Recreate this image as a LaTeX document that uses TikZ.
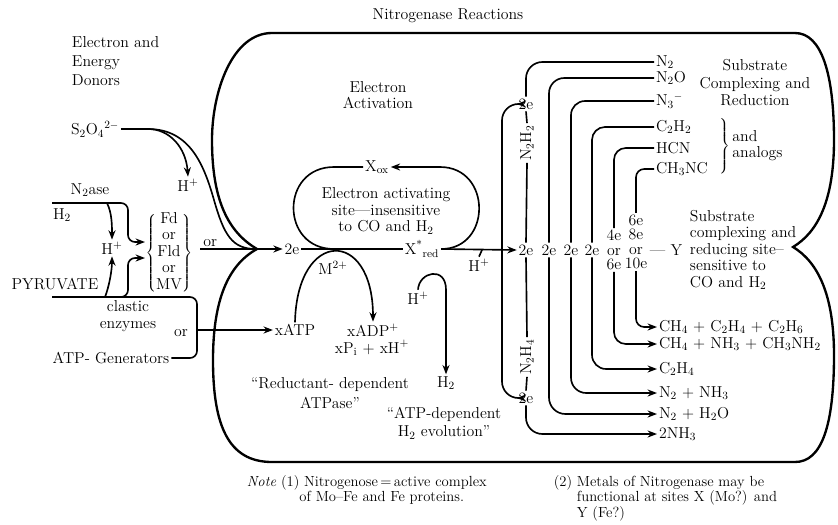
\documentclass[tikz,border=0pt]{standalone}
\usepackage{tikz}
\usetikzlibrary{arrows.meta,calc}

\newcommand{\chsub}[1]{\textsubscript{#1}}
\newcommand{\chsup}[1]{\textsuperscript{#1}}

\begin{document}
\begin{tikzpicture}[x=0.03cm,y=-0.03cm,line width=1.4pt,
  font=\fontsize{13.5}{14}\selectfont,
  lbl/.style={inner sep=1pt,align=center},
  stack/.style={lbl,font=\fontsize{13.5}{12.3}\selectfont},
  subst/.style={lbl,anchor=west},
  arr/.style={-{Stealth[length=8pt,width=6pt]}},
  arrboth/.style={{Stealth[length=8pt,width=6pt]}-{Stealth[length=8pt,width=6pt]}},
  rim/.style={line width=2pt},
  notebox/.style={inner sep=0pt,anchor=north west,font=\fontsize{12.5}{12.5}\selectfont}]
  \useasboundingbox (0,0) rectangle (838,524);

  % titles
  \node[lbl] (title) at (448,16) {Nitrogenase Reactions};
  \node[lbl,anchor=west,align=left] (donors) at (70,61) {Electron and\\[2.5pt]Energy\\[2.5pt]Donors};
  \node[lbl] (eact) at (378,95) {Electron\\Activation};
  \node[lbl] (subA) at (755,83) {Substrate\\[1pt]Complexing and\\[1pt]Reduction};
  \node[lbl,anchor=west,align=left] (subB) at (688,250) {Substrate\\complexing and\\reducing site--\\sensitive to\\CO and H\chsub{2}};

  % donors
  \node[lbl] (s2o4) at (95,129) {S\chsub{2}O\chsub{4}\chsup{2$-$}};
  \node[lbl] (ha) at (188,185) {H\chsup{+}};
  \node[lbl] (n2ase) at (90,190) {N\chsub{2}ase};
  \node[lbl] (h2l) at (62,215) {H\chsub{2}};
  \node[lbl] (hl) at (112,248) {H\chsup{+}};
  \node[lbl] (pyr) at (55,284) {PYRUVATE};
  \node[lbl] (fd) at (169,253) {$\left\{\mbox{\begin{tabular}{@{}c@{}}Fd\\or\\Fld\\or\\MV\end{tabular}}\right\}$};
  \node[lbl] (clastic) at (128,316) {clastic\\enzymes};
  \node[lbl] (orB) at (181,333) {or};
  \node[lbl] (atpgen) at (111,358) {ATP- Generators};

  % electron activation
  \node[lbl] (eL) at (292,249) {2e};
  \node[lbl] (xox) at (377,167) {X\chsub{ox}};
  \node[lbl] (xred) at (422,249) {X\chsup{*}\chsub{red}};
  \node[lbl] (site) at (386,211) {Electron activating\\site---insensitive\\to CO and H\chsub{2}};
  \node[lbl] (m2) at (333,268) {M\chsup{2+}};
  \node[lbl] (xatp) at (295,330) {xATP};
  \node[lbl] (xadp) at (373,330) {xADP\chsup{+}};
  \node[lbl] (xpi) at (372,348) {xP\chsub{i} + xH\chsup{+}};
  \node[lbl] (atpase) at (330,393) {``Reductant- dependent\\[3pt]ATPase''};
  \node[lbl] (hb) at (418,298) {H\chsup{+}};
  \node[lbl] (h2b) at (446,383) {H\chsub{2}};
  \node[lbl] (h2evo) at (444,423) {``ATP-dependent\\[2pt]H\chsub{2} evolution''};
  \node[lbl] (hc) at (479,265) {H\chsup{+}};

  % substrate site
  \node[lbl] (eTop) at (526,104) {2e};
  \node[lbl,rotate=90] (n2h2) at (527,143) {N\chsub{2}H\chsub{2}};
  \node[lbl] (eA) at (526,250) {2e};
  \node[lbl,rotate=90] (n2h4) at (527,357) {N\chsub{2}H\chsub{4}};
  \node[lbl] (eBot) at (526,398) {2e};
  \node[lbl] (eB) at (549,250) {2e};
  \node[lbl] (eC) at (571,250) {2e};
  \node[lbl] (eD) at (592,250) {2e};
  \node[stack] (eE) at (614,250) {4e\\or\\6e};
  \node[stack] (eF) at (636,242) {6e\\8e\\or\\10e};
  \node[lbl,anchor=west] (ysite) at (648,250) {--- Y};

  \node[subst] (sN2) at (654,62) {N\chsub{2}};
  \node[subst] (sN2O) at (654,78) {N\chsub{2}O};
  \node[subst] (sN3) at (654,101) {N\chsub{3}\chsup{$-$}};
  \node[subst] (sC2H2) at (654,127) {C\chsub{2}H\chsub{2}};
  \node[subst] (sHCN) at (654,148) {HCN};
  \node[subst] (sCH3NC) at (654,169) {CH\chsub{3}NC};
  \node[lbl,anchor=west] (analogs) at (716,147) {$\left.\vrule height 28pt depth 22pt width 0pt\right\}$\,\begin{tabular}{@{}l@{}}and\\analogs\end{tabular}};

  \node[subst] (pA) at (657,327) {CH\chsub{4} + C\chsub{2}H\chsub{4} + C\chsub{2}H\chsub{6}};
  \node[subst] (pB) at (657,344) {CH\chsub{4} + NH\chsub{3} + CH\chsub{3}NH\chsub{2}};
  \node[subst] (pC) at (657,369) {C\chsub{2}H\chsub{4}};
  \node[subst] (pD) at (657,393) {N\chsub{2} + NH\chsub{3}};
  \node[subst] (pE) at (657,414) {N\chsub{2} + H\chsub{2}O};
  \node[subst] (pF) at (657,434) {2NH\chsub{3}};

  % notes
  \node[notebox] (note1) at (246,475) {\def\arraystretch{0.95}\begin{tabular}{@{}l@{ }l@{}}\textit{Note} (1) & Nitrogenose\,=\,active complex\\ & \hspace{-4pt}of Mo--Fe and Fe proteins.\end{tabular}};
  \node[notebox] (note2) at (553,475) {\def\arraystretch{0.95}\begin{tabular}{@{}l@{ }l@{}}(2) & Metals of Nitrogenase may be\\ & functional at sites X (Mo?) and\\ & Y (Fe?)\end{tabular}};

  % outer boundary
  \draw[rim] (257,249) .. controls (228,232) and (212,200) .. (212,140)
    .. controls (212,92) and (232,33) .. (272,33) -- (795,33)
    .. controls (822,33) and (834,75) .. (834,140)
    .. controls (834,200) and (818,232) .. (793,247)
    .. controls (818,262) and (834,295) .. (834,355)
    .. controls (834,425) and (822,462) .. (795,462) -- (272,462)
    .. controls (228,462) and (213,425) .. (213,360)
    .. controls (213,300) and (228,265) .. (257,249) -- cycle;

  % donor lines
  \coordinate (sSplit) at (148,129);
  \coordinate (sJoin) at (256,249);
  \draw (s2o4.east) -- (sSplit);
  \draw[arr] (sSplit) .. controls (170,129) and (186,148) .. (ha.north);
  \draw (sSplit) .. controls (190,129) and (204,165) .. (214,200)
    .. controls (224,235) and (232,249) .. (sJoin);
  \coordinate (n2aseL) at (52,203);
  \coordinate (splitT) at (128,242);
  \coordinate (splitB) at (128,258);
  \coordinate (fdInT) at (145,242);
  \coordinate (fdInB) at (145,258);
  \coordinate (pyrL) at (52,297);
  \coordinate (joinA) at (197,330);
  \draw[arr,rounded corners=6pt] (n2aseL) -| (splitT) -- (fdInT);
  \draw[arr,rounded corners=6pt] (pyrL) -| (splitB) -- (fdInB);
  \draw[rounded corners=6pt] (pyrL) -| (joinA) |- (atpgen.east);
  \draw[arr] (joinA) -- (xatp.west);
  \draw[arr] ($(n2aseL)+(55,0)$) .. controls +(5,10) and +(0,-14) .. (hl.north);
  \draw[arr] ($(pyrL)+(53,0)$) .. controls +(4,-10) and +(0,14) .. (hl.south);
  \draw[arr] ($(fd.east |- eL)+(6,0)$) -- node[lbl,above,pos=0.12] (orA) {or} (eL.west);

  % electron activating site
  \coordinate (stTL) at (334,167);
  \coordinate (stBL) at (334,249);
  \coordinate (stTR) at (440,167);
  \draw (eL.east) -- (xred.west);
  \draw[arr] (xred.east) -- (eA.west);
  \draw (xox.west) -- (stTL) .. controls (280,167) and (280,249) .. (stBL);
  \draw[arr] (xred.east) .. controls (492,249) and (492,167) .. (stTR) -- (xox.east);
  \draw[arr] (xatp.north) .. controls +(2,-94) and +(0,-94) .. (xadp.north);
  \draw[arr] (hb.north) .. controls +(1,-18) and +(0,-24) .. (h2b.north |- hb.north) -- (h2b.north);
  \draw (hc.north) -- ($(hc.north |- eA.west)+(3,0)$);

  % substrate reduction paths
  \coordinate (loopX) at (502,250);
  \draw[arrboth,rounded corners=14pt] (eTop.west) -| (loopX) |- (eBot.west);
  \draw[rounded corners=14pt] (sN2.west) -| (eTop.north);
  \draw (eTop.south) -- (n2h2.east);
  \draw (n2h2.west) -- (eA.north);
  \draw (eA.south) -- (n2h4.east);
  \draw (n2h4.west) -- (eBot.north);
  \draw[arr,rounded corners=14pt] (eBot.south) |- (pF.west);
  \draw[rounded corners=13pt] (sN2O.west) -| (eB.north);
  \draw[arr,rounded corners=14pt] (eB.south) |- (pE.west);
  \draw[rounded corners=12pt] (sN3.west) -| (eC.north);
  \draw[arr,rounded corners=13pt] (eC.south) |- (pD.west);
  \draw[rounded corners=11pt] (sC2H2.west) -| (eD.north);
  \draw[arr,rounded corners=12pt] (eD.south) |- (pC.west);
  \draw[rounded corners=10pt] (sHCN.west) -| (eE.north);
  \draw[arr,rounded corners=10pt] (eE.south) |- (pB.west);
  \draw[rounded corners=7pt] (sCH3NC.west) -| (eF.north);
  \draw[arr,rounded corners=7pt] (eF.south) |- (pA.west);
\end{tikzpicture}
\end{document}
